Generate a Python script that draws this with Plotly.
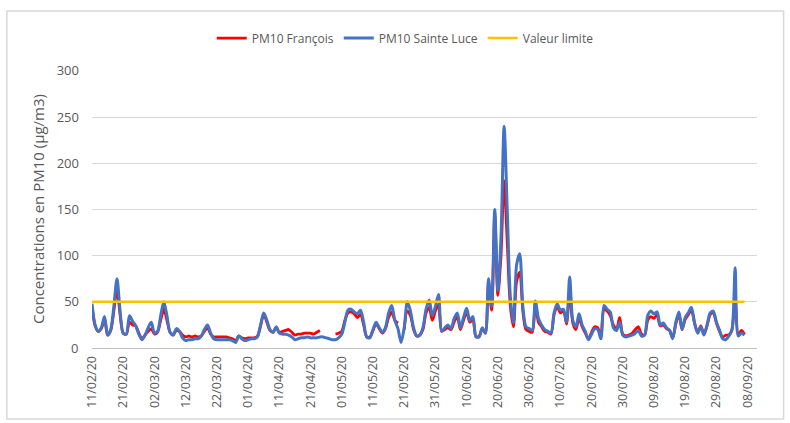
import pandas as pd
import plotly.graph_objects as go

start_date = "2020-02-11"

pm10_sainte_luce = [
    48, 25, 18, 22, 34, 14, 20, 45, 75, 40,
    16, 15, 35, 29, 24, 15, 9, 14, 22, 28,
    16, 18, 35, 50, 35, 17, 14, 21, 18, 11,
    8, 9, 9, 10, 10, 13, 20, 25, 16, 10,
    9, 9, 9, 9, 9, 8, 6, 13, 10, 8,
    9, 10, 10, 12, 25, 38, 30, 20, 17, 23,
    16, 15, 15, 14, 12, 9, 10, 11, 11, 12,
    11, 11, 11, 12, 12, 11, 10, 9, 9, 11,
    15, 28, 41, 42, 39, 37, 41, 28, 12, 11,
    20, 28, 22, 17, 22, 38, 46, 30, 21, 6,
    22, 50, 40, 22, 13, 14, 22, 42, 52, 35,
    45, 58, 18, 22, 25, 21, 32, 38, 22, 33,
    43, 30, 34, 12, 12, 22, 16, 75, 45, 150,
    62, 120, 240, 150, 55, 27, 90, 102, 45, 23,
    21, 19, 51, 32, 25, 20, 18, 16, 38, 48,
    41, 42, 28, 77, 30, 23, 37, 25, 18, 9,
    15, 21, 20, 10, 46, 42, 39, 22, 19, 28,
    14, 12, 13, 14, 16, 19, 13, 14, 35, 40,
    37, 39, 25, 27, 22, 19, 10, 28, 39, 20,
    33, 38, 44, 27, 16, 23, 14, 25, 38, 40,
    28, 19, 10, 9, 13, 20, 87, 13, 16, 14,
]

pm10_francois = [
    45, 24, 18, 21, 32, 14, 19, 40, 64, 36,
    16, 15, 28, 25, 24, 16, 10, 14, 18, 21,
    15, 17, 30, 42, 30, 17, 14, 19, 18, 14,
    12, 13, 12, 13, 12, 13, 18, 22, 15, 12,
    12, 12, 12, 12, 11, 10, 8, 13, 11, 10,
    11, 11, 11, 13, 24, 36, 28, 19, 17, 22,
    17, 18, 19, 20, 17, 14, 15, 15, 16, 16,
    16, 15, 17, 19, None, None, None, None, 15, 16,
    18, 30, 38, 39, 37, 33, 36, 25, 12, 12,
    19, 26, 21, 16, 21, 33, 39, 30, 27, None,
    20, 40, 35, 20, 13, 14, 20, 38, 44, 30,
    40, 47, 18, 20, 22, 20, 28, 34, 20, 30,
    39, 28, 31, 12, 13, 21, 16, 68, 41, 145,
    57, 100, 181, 115, 45, 23, 72, 82, 40, 20,
    18, 17, 48, 28, 23, 18, 17, 15, 36, 45,
    38, 40, 26, 62, 27, 20, 32, 23, 16, 10,
    17, 23, 22, 12, 42, 40, 35, 25, 20, 33,
    15, 13, 14, 16, 20, 23, 15, 14, 30, 34,
    32, 36, 24, 25, 21, 19, 11, 26, 36, 20,
    31, 36, 41, 27, 17, 24, 15, 24, 36, 38,
    27, 18, 12, 14, 14, 20, 55, 14, 19, 15,
]

valeur_limite = 50
y_ticks = [50, 100, 150, 200, 250, 300]

dates = pd.date_range(start_date, periods=len(pm10_sainte_luce), freq="D")
limit_values = [valeur_limite] * len(dates)

FONT = "Open Sans, Liberation Sans, sans-serif"
GRAY = "#595959"

fig = go.Figure()
fig.add_trace(go.Scatter(
    x=dates, y=pm10_francois, name="PM10 François", mode="lines",
    line=dict(color="#FF0000", width=2.8, shape="spline", smoothing=0.8),
    connectgaps=False,
))
fig.add_trace(go.Scatter(
    x=dates, y=pm10_sainte_luce, name="PM10 Sainte Luce", mode="lines",
    line=dict(color="#4472C4", width=3, shape="spline", smoothing=0.8),
))
fig.add_trace(go.Scatter(
    x=dates, y=limit_values, name="Valeur limite", mode="lines",
    line=dict(color="#FFC000", width=2.4),
))

fig.update_layout(
    width=790, height=423,
    margin=dict(l=92, r=33, t=70, b=75, autoexpand=False),
    paper_bgcolor="white", plot_bgcolor="white",
    font=dict(family=FONT, color=GRAY, size=12),
    showlegend=True,
    legend=dict(
        orientation="h", xref="container", yref="container",
        x=0.513, xanchor="center", y=0.91, yanchor="middle",
        font=dict(size=12, color=GRAY), itemwidth=30,
        bgcolor="rgba(0,0,0,0)",
    ),
    xaxis=dict(
        type="date", automargin=False,
        range=["2020-02-11", "2020-09-11"],
        tick0="2020-02-11", dtick=10 * 86400000,
        tickformat="%d/%m/%y", tickangle=-90,
        tickfont=dict(size=12.5, color=GRAY),
        showgrid=False, showline=True, linecolor="#BFBFBF", linewidth=1,
        ticks="", zeroline=False, ticklabelstandoff=2,
    ),
    yaxis=dict(
        range=[0, 301], tickmode="array", tickvals=y_ticks,
        automargin=False, ticklabelstandoff=12,
        tickfont=dict(size=13, color=GRAY),
        showgrid=True, gridcolor="#D9D9D9", gridwidth=1,
        zeroline=False, showline=False, ticks="",
        title=dict(text="Concentrations en PM10 (µg/m3)",
                   font=dict(size=15, color=GRAY), standoff=8),
    ),
    annotations=[dict(
        text="0", xref="paper", yref="y", x=0, y=0,
        xanchor="right", yanchor="middle", xshift=-12, showarrow=False,
        font=dict(size=13, color=GRAY),
    )],
    shapes=[dict(
        type="rect", xref="paper", yref="paper",
        x0=-0.128, x1=1.04, y0=-0.255, y1=1.212,
        line=dict(color="#D9D9D9", width=1.5), fillcolor="rgba(0,0,0,0)",
        layer="below",
    )],
)

fig.write_html("out.html", config={"displayModeBar": False},
               post_script="document.body.style.margin='0';")
